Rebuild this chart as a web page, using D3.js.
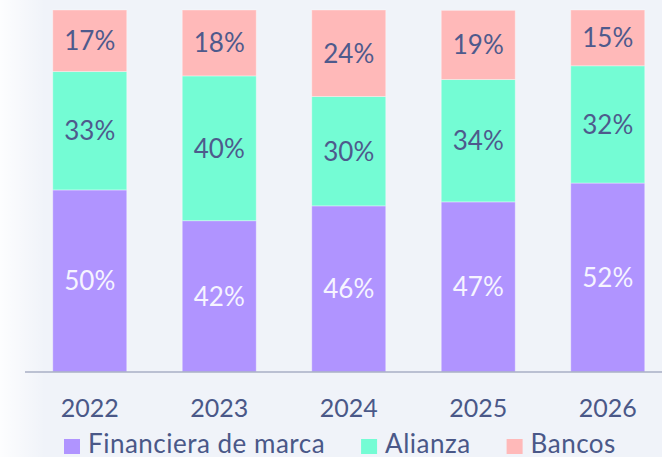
<!DOCTYPE html>
<html lang="es">
<head>
    <meta charset="UTF-8">
    <title>Financiera de marca / Alianza / Bancos</title>
    <script src="https://d3js.org/d3.v7.min.js"></script>
    <style>
        body {
            margin: 0;
            padding: 0;
            background-color: #f0f3f9;
            font-family: 'Lato', sans-serif;
        }
        svg {
            display: block;
        }
    </style>
</head>
<body>
    <div id="chart"></div>

    <script>
        // Data (shares per year, %)
        const years = ["2022", "2023", "2024", "2025", "2026"];
        const series = ["Financiera de marca", "Alianza", "Bancos"];
        const financiera = [50.3, 41.8, 45.9, 47.0, 52.2];
        const alianza = [32.7, 40.0, 30.2, 33.8, 32.4];
        const bancos = [17.0, 18.2, 23.9, 19.1, 15.4];

        const width = 662;
        const height = 457;

        const colors = {
            "Financiera de marca": "#b094ff",
            "Alianza": "#74fcd4",
            "Bancos": "#ffb9b9"
        };
        const labelColors = {
            "Financiera de marca": "#f6f4ff",
            "Alianza": "#4e5a8c",
            "Bancos": "#4e5a8c"
        };

        const rows = years.map((y, i) => ({
            year: y,
            "Financiera de marca": financiera[i],
            "Alianza": alianza[i],
            "Bancos": bancos[i]
        }));

        const svg = d3.select("#chart")
            .append("svg")
            .attr("width", width)
            .attr("height", height);

        // soft white glow on the left edge
        const defs = svg.append("defs");
        const grad = defs.append("linearGradient")
            .attr("id", "leftGlow")
            .attr("x1", "0").attr("x2", "1").attr("y1", "0").attr("y2", "0");
        grad.append("stop").attr("offset", "0%").attr("stop-color", "#ffffff").attr("stop-opacity", 0.85);
        grad.append("stop").attr("offset", "100%").attr("stop-color", "#ffffff").attr("stop-opacity", 0);

        svg.append("rect")
            .attr("width", width)
            .attr("height", height)
            .attr("fill", "#f0f3f9");
        svg.append("rect")
            .attr("width", 45)
            .attr("height", height)
            .attr("fill", "url(#leftGlow)");

        const x = d3.scaleBand()
            .domain(years)
            .range([25, 672.5])
            .paddingInner(0.4286)
            .paddingOuter(0.2143);

        const y = d3.scaleLinear()
            .domain([0, 100])
            .range([372, 10]);

        const stack = d3.stack().keys(series);
        const stacked = stack(rows);

        const layers = svg.append("g")
            .selectAll("g")
            .data(stacked)
            .join("g")
            .attr("fill", d => colors[d.key]);

        layers.selectAll("rect")
            .data(d => d)
            .join("rect")
            .attr("x", d => x(d.data.year))
            .attr("y", d => y(d[1]))
            .attr("width", x.bandwidth())
            .attr("height", d => y(d[0]) - y(d[1]))
            .attr("stroke", "#ffffff")
            .attr("stroke-opacity", 0.35)
            .attr("stroke-width", 1);

        // segment labels
        const labelSize = 26;
        layers.each(function(layer) {
            d3.select(this).selectAll("text")
                .data(layer)
                .join("text")
                .attr("x", d => x(d.data.year) + x.bandwidth() / 2)
                .attr("y", d => (y(d[0]) + y(d[1])) / 2 + labelSize * 0.36)
                .attr("text-anchor", "middle")
                .attr("font-size", labelSize)
                .attr("fill", labelColors[layer.key])
                .text(d => Math.round(d[1] - d[0]) + "%");
        });

        // baseline
        svg.append("line")
            .attr("x1", 25)
            .attr("x2", width)
            .attr("y1", y(0))
            .attr("y2", y(0))
            .attr("stroke", "#a8afc4")
            .attr("stroke-width", 1.5);

        // year labels
        svg.append("g")
            .selectAll("text")
            .data(years)
            .join("text")
            .attr("x", d => x(d) + x.bandwidth() / 2)
            .attr("y", 417)
            .attr("text-anchor", "middle")
            .attr("font-size", 25)
            .attr("fill", "#4a5888")
            .text(d => d);

        // legend
        const legend = svg.append("g");
        let lx = 64;
        series.forEach(s => {
            legend.append("rect")
                .attr("x", lx)
                .attr("y", 439)
                .attr("width", 16)
                .attr("height", 15)
                .attr("fill", colors[s]);
            const t = legend.append("text")
                .attr("x", lx + 24)
                .attr("y", 453)
                .attr("font-size", 26)
                .attr("letter-spacing", 0.5)
                .attr("fill", "#4a5888")
                .text(s);
            lx += 24 + t.node().getComputedTextLength() + 36;
        });
    </script>
</body>
</html>
